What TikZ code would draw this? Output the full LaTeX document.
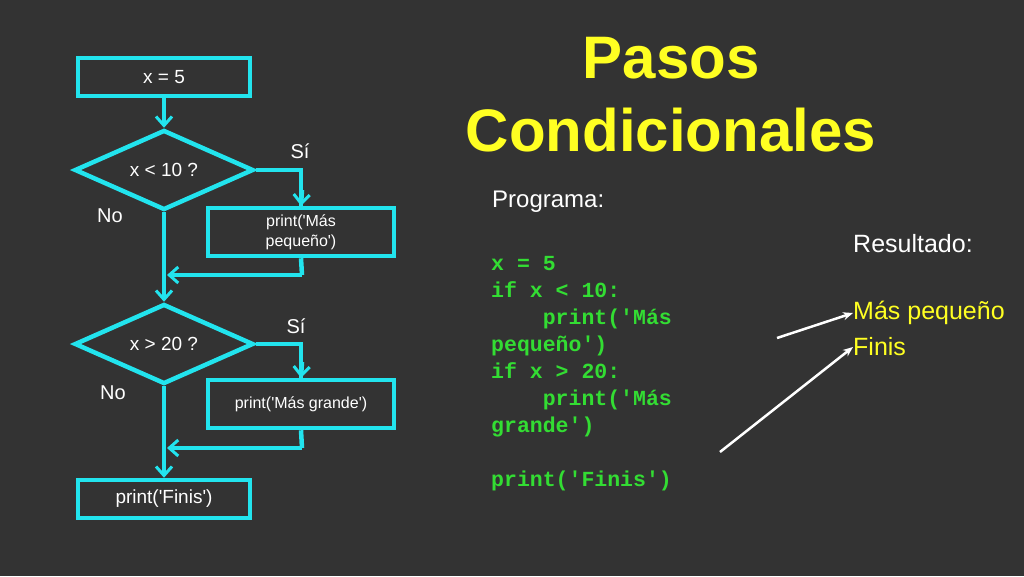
\documentclass[tikz,border=0pt]{standalone}
\usepackage{fontspec}
\setmainfont{Liberation Sans}[Ligatures=TeXOff]
\setmonofont{Liberation Mono}
\usetikzlibrary{shapes.geometric,arrows.meta}
\definecolor{bg}{HTML}{333333}
\definecolor{cy}{HTML}{22E4EE}
\definecolor{yl}{HTML}{FFFF22}
\definecolor{gr}{HTML}{33DD33}
\tikzset{
  box/.style={draw=cy,line width=4.5pt,minimum width=#1,text=white,font=\fontsize{19}{20}\selectfont,inner sep=0pt,align=center},
  dia/.style={draw=cy,line width=4.5pt,diamond,minimum width=179pt,minimum height=80pt,aspect=2.2,inner sep=0pt,text=white,font=\fontsize{19}{20}\selectfont},
  flow/.style={cy,line width=4.5pt},
  arr/.style={flow,-{Straight Barb[length=9pt,width=16pt,line width=3pt]}},
  lbl/.style={text=white,font=\fontsize{20}{22}\selectfont},
  code/.style={text=gr,font=\fontsize{21.5}{27}\ttfamily\bfseries,anchor=north west,align=left,inner sep=0pt},
  warr/.style={white,line width=2.5pt,-{Stealth[length=10pt,width=8pt]}}
}
\begin{document}
\begin{tikzpicture}[x=1pt,y=-1pt]
\fill[bg] (0,0) rectangle (1024,576);
\useasboundingbox (0,0) rectangle (1024,576);
\node[box=172pt,minimum height=38pt] (a) at (164,77) {x = 5};
\node[dia] (d1) at (164,170) {x < 10 ?};
\node[box=186pt,minimum height=48pt,font=\fontsize{16}{20}\selectfont] (b1) at (301,232) {print('Más\\pequeño')};
\node[dia] (d2) at (164,344) {x > 20 ?};
\node[box=186pt,minimum height=48pt,font=\fontsize{16}{20}\selectfont] (b2) at (301,404) {print('Más grande')};
\node[box=172pt,minimum height=38pt] (f) at (164,499) {print('Finis')};
\coordinate (r1) at (302,275);
\coordinate (r2) at (302,448);
\draw[arr] (a) -- (d1.north);
\draw[flow] (d1.east) -| (b1.north);
\draw[arr] (302,190) -- (b1.north);
\draw[flow] (b1.south) -- (r1);
\draw[arr] (r1) -- (167,275);
\draw[arr] (d1.south) -- (d2.north);
\draw[flow] (d2.east) -| (b2.north);
\draw[arr] (302,362) -- (b2.north);
\draw[flow] (b2.south) -- (r2);
\draw[arr] (r2) -- (167,448);
\draw[arr] (d2.south) -- (f.north);
\node[lbl] (s1) at (300,151) {Sí};
\node[lbl] (n1) at (110,216) {No};
\node[lbl] (s2) at (296,326) {Sí};
\node[lbl] (n2) at (113,393) {No};
\node[text=yl,font=\fontsize{60}{60}\selectfont\bfseries] (t1) at (671,58) {Pasos};
\node[text=yl,font=\fontsize{60}{60}\selectfont\bfseries] (t2) at (671,130) {Condicionales};
\node[text=white,font=\fontsize{24}{26}\selectfont,anchor=west,inner sep=0pt] (p) at (492,202) {Programa:};
\node[code] (c) at (491,256) {x = 5\\if x < 10:\\\ \ \ \ print('Más\\pequeño')\\if x > 20:\\\ \ \ \ print('Más\\grande')\\\mbox{}\\print('Finis')};
\node[text=white,font=\fontsize{25}{27}\selectfont,anchor=west,inner sep=0pt] (res) at (853,244) {Resultado:};
\node[text=yl,font=\fontsize{25}{27}\selectfont,anchor=west,inner sep=0pt] (o1) at (853,313) {Más pequeño};
\node[text=yl,font=\fontsize{25}{27}\selectfont,anchor=west,inner sep=0pt] (o2) at (853,347) {Finis};
\coordinate (w1) at (777,338);
\coordinate (w2) at (720,452);
\draw[warr] (w1) -- (o1.west);
\draw[warr] (w2) -- (o2.west);
\end{tikzpicture}
\end{document}
